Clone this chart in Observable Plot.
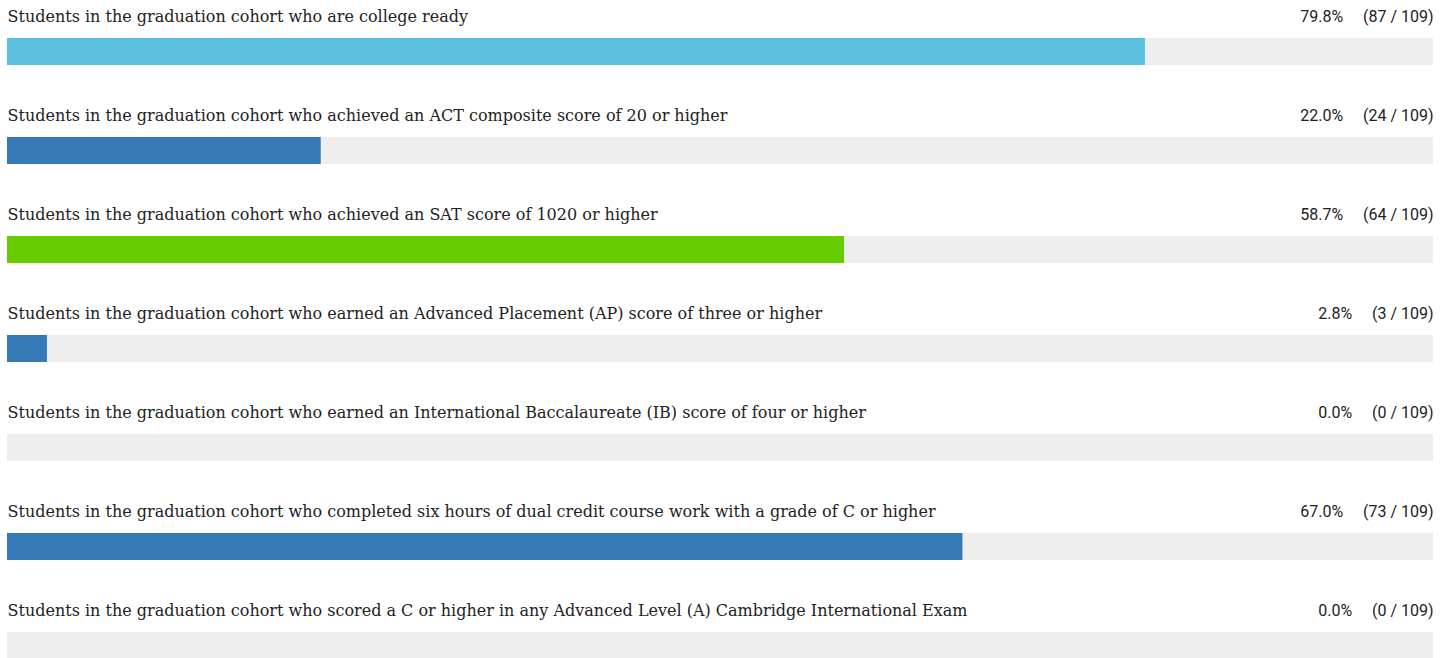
<!DOCTYPE html>
<html>
<head>
<meta charset="utf-8">
<script src="https://cdn.jsdelivr.net/npm/d3@7"></script>
<script src="https://cdn.jsdelivr.net/npm/@observablehq/plot@0.6"></script>
<style>
  html, body { margin: 0; padding: 0; background: #fff; }
  #chart svg { display: block; }
</style>
</head>
<body>
<div id="chart"></div>
<script>
const labels = [
  "Students in the graduation cohort who are college ready",
  "Students in the graduation cohort who achieved an ACT composite score of 20 or higher",
  "Students in the graduation cohort who achieved an SAT score of 1020 or higher",
  "Students in the graduation cohort who earned an Advanced Placement (AP) score of three or higher",
  "Students in the graduation cohort who earned an International Baccalaureate (IB) score of four or higher",
  "Students in the graduation cohort who completed six hours of dual credit course work with a grade of C or higher",
  "Students in the graduation cohort who scored a C or higher in any Advanced Level (A) Cambridge International Exam"
];
const percents = [79.8, 22.0, 58.7, 2.8, 0.0, 67.0, 0.0];
const counts = [87, 24, 64, 3, 0, 73, 0];
const total = 109;
const barColors = ["#5bc0de", "#337ab7", "#66cc00", "#337ab7", "#337ab7", "#337ab7", "#337ab7"];

const rows = labels.map((label, i) => ({
  label,
  pct: percents[i],
  count: counts[i],
  text: percents[i].toFixed(1) + "%\u00a0\u00a0\u00a0\u00a0\u00a0(" + counts[i] + " / " + total + ")"
}));

const W = 1450, H = 658;
const rowStep = 99.25, barH = 27, firstTop = 38;
const padIn = 1 - barH / rowStep;

const chart = Plot.plot({
  width: W,
  height: H,
  margin: 0,
  x: { domain: [0, 100], range: [7, 1433], axis: null },
  y: { domain: labels, range: [firstTop, firstTop + rowStep * (labels.length - padIn)], paddingInner: padIn, paddingOuter: 0, align: 0, axis: null },
  color: { domain: labels, range: barColors },
  style: { background: "#fff" },
  marks: [
    Plot.barX(rows, { x1: 0, x2: 100, y: "label", fill: "#eeeeee" }),
    Plot.barX(rows, { x1: 0, x2: "pct", y: "label", fill: "label" }),
    Plot.text(rows, {
      x: 0, y: "label", text: "label", textAnchor: "start", dy: -35.5,
      fontFamily: "DejaVu Serif", fontSize: 16, fill: "#222"
    }),
    Plot.text(rows, {
      x: 100, y: "label", text: "text", textAnchor: "end", dy: -35.5,
      fontFamily: "Roboto", fontSize: 16, fill: "#222"
    })
  ]
});
document.getElementById("chart").appendChild(chart);
</script>
</body>
</html>
